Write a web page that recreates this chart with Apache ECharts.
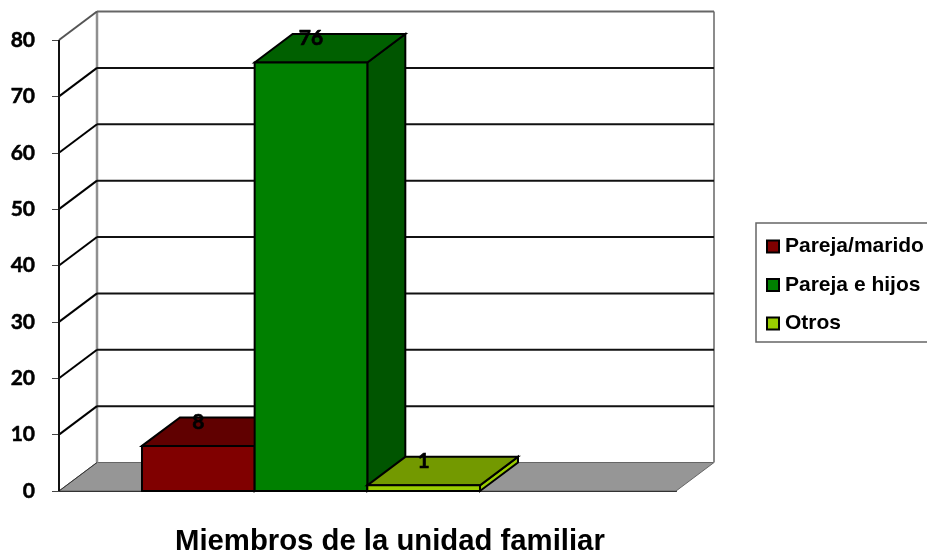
<!DOCTYPE html>
<html>
<head>
<meta charset="utf-8">
<style>html,body{margin:0;padding:0;background:#fff}#c{width:927px;height:556px}</style>
<script src="https://cdn.jsdelivr.net/npm/echarts@6/dist/echarts.min.js"></script>
</head>
<body>
<div id="c"></div>
<script>
var categories = ['Miembros de la unidad familiar'];
var seriesNames = ['Pareja/marido', 'Pareja e hijos', 'Otros'];
var seriesValues = [8, 76, 1];
var frontColors = ['#800000', '#008000', '#99CC00'];
var topColors = ['#600000', '#006000', '#739900'];
var sideColors = ['#4d0000', '#005500', '#5c7a00'];
var yTicks = [0, 10, 20, 30, 40, 50, 60, 70, 80];

var DX = 38, DY = 28.5;
var BAR_W = 0.1826, BAR_START = -0.3655;

var chart = echarts.init(document.getElementById('c'), null, {renderer: 'canvas'});

function poly(pts, fill, stroke, lw) {
  return {type: 'polygon', shape: {points: pts},
    style: {fill: fill, stroke: stroke || '#000', lineWidth: lw == null ? 2 : lw, lineJoin: 'miter'}};
}
function seg(x1, y1, x2, y2, color, lw) {
  return {type: 'line', shape: {x1: x1, y1: y1, x2: x2, y2: y2},
    style: {stroke: color, lineWidth: lw, fill: null}};
}

function renderWalls(params, api) {
  var band = api.size([1, 0])[0];
  var c = api.coord([0, 0]);
  var xL = c[0] - band / 2, xR = c[0] + band / 2, y0 = c[1];
  var yTop = api.coord([0, yTicks[yTicks.length - 1]])[1];
  var els = [];
  els.push(poly([[xL, y0], [xR, y0], [xR + DX, y0 - DY], [xL + DX, y0 - DY]], '#969696', '#666', 1));
  els.push(seg(xL + DX, yTop - DY, xL + DX, y0 - DY, '#8f8f8f', 2.5));
  els.push(seg(xR + DX, yTop - DY, xR + DX, y0 - DY, '#8c8c8c', 2));
  yTicks.forEach(function (t) {
    if (t === 0) return;
    var y = api.coord([0, t])[1];
    var top = t === yTicks[yTicks.length - 1];
    els.push(seg(xL, y, xL + DX, y - DY, top ? '#555' : '#000', 2));
    els.push(seg(xL + DX, y - DY, xR + DX, y - DY, top ? '#666' : '#111', 2));
  });
  els.push(seg(xL, y0, xL + DX, y0 - DY, '#333', 1));
  els.push(seg(xL, yTop, xL, y0, '#111', 2));
  return {type: 'group', children: els};
}

function renderBar(i) {
  return function (params, api) {
    var band = api.size([1, 0])[0];
    var base = api.coord([0, 0]);
    var top = api.coord([0, api.value(1)]);
    var x1 = base[0] + band * (BAR_START + BAR_W * i);
    var x2 = x1 + band * BAR_W;
    var y0 = base[1], y1 = top[1];
    return {type: 'group', children: [
      poly([[x2, y0], [x2 + DX, y0 - DY], [x2 + DX, y1 - DY], [x2, y1]], i === 2 ? frontColors[i] : sideColors[i]),
      poly([[x1, y1], [x1 + DX, y1 - DY], [x2 + DX, y1 - DY], [x2, y1]], topColors[i]),
      poly([[x1, y0], [x2, y0], [x2, y1], [x1, y1]], frontColors[i]),
      {type: 'text', x: (x1 + x2) / 2, y: y1 - 24, z2: 50, style: {
        text: String(api.value(1)), fill: '#000', stroke: '#000', lineWidth: 0.6, align: 'center', verticalAlign: 'middle',
        font: 'bold 21px Lato'}}
    ]};
  };
}

var series = [{
  type: 'custom', name: 'walls', silent: true, clip: false,
  data: [[0, 0]], renderItem: renderWalls, encode: {x: 0, y: 1}
}];
seriesNames.forEach(function (n, i) {
  series.push({
    type: 'custom', name: n, clip: false,
    itemStyle: {color: frontColors[i], borderColor: '#000', borderWidth: 2},
    data: [[0, seriesValues[i]]], renderItem: renderBar(i), encode: {x: 0, y: 1}
  });
});

chart.setOption({
  animation: false,
  backgroundColor: '#fff',
  title: {
    text: categories[0], left: 175, top: 527, padding: 0,
    textStyle: {fontFamily: '"Liberation Sans"', fontWeight: 'bold', fontSize: 29.3, color: '#000'}
  },
  legend: {
    data: seriesNames, icon: 'rect', orient: 'vertical', left: 756, top: 223,
    padding: [13, 40, 8, 10], itemGap: 17.5, itemWidth: 12, itemHeight: 12, itemStyle: {borderColor: '#000', borderWidth: 2},
    borderColor: '#666', borderWidth: 1.5, backgroundColor: '#fff', selectedMode: false,
    textStyle: {fontFamily: '"Liberation Sans"', fontWeight: 'bold', fontSize: 21, color: '#000', padding: [0, 0, 0, 1]}
  },
  grid: {left: 59, top: 40, width: 617, height: 451, containLabel: false},
  xAxis: {
    type: 'category', data: categories, boundaryGap: true,
    axisLine: {show: true, lineStyle: {color: '#000', width: 2}},
    axisTick: {show: false}, axisLabel: {show: false}, splitLine: {show: false}
  },
  yAxis: {
    type: 'value', min: 0, max: 80, interval: 10,
    axisLine: {show: false},
    axisTick: {show: true, length: 7, lineStyle: {color: '#444', width: 1}},
    axisLabel: {margin: 24, color: '#000', fontFamily: 'Lato', fontWeight: 'bold', fontSize: 21, textBorderColor: '#000', textBorderWidth: 0.5},
    splitLine: {show: false}
  },
  series: series
});
</script>
</body>
</html>
